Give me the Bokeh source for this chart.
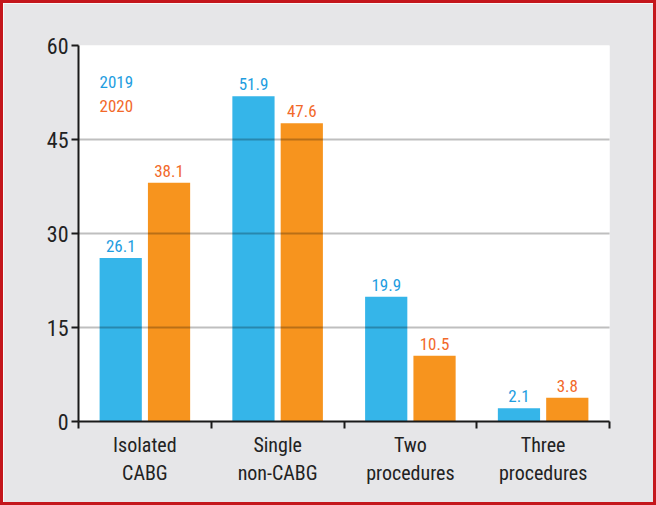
from bokeh.plotting import figure
from bokeh.models import Range1d, FixedTicker, Label, ColumnDataSource
from bokeh.core.properties import value
from bokeh.embed import file_html
from bokeh.resources import INLINE

categories = ["Isolated\nCABG", "Single\nnon-CABG", "Two\nprocedures", "Three\nprocedures"]
series_names = ["2019", "2020"]
values_2019 = [26.1, 51.9, 19.9, 2.1]
values_2020 = [38.1, 47.6, 10.5, 3.8]
y_ticks = [0, 15, 30, 45, 60]

FONT = "Roboto Condensed"
BLUE_BAR = "#35b5e9"
ORANGE_BAR = "#f7941e"
BLUE_TXT = "#1e9ddf"
ORANGE_TXT = "#f2692a"

p = figure(width=656, height=505, output_backend="svg", toolbar_location=None,
           x_range=Range1d(0, 4), y_range=Range1d(0, 60),
           min_border_left=75, min_border_top=42, min_border_right=50, min_border_bottom=87)
p.styles = {"border": "3px solid #c4161c"}
p.background_fill_color = "white"
p.border_fill_color = "#e6e6e8"
p.outline_line_color = None

off = 0.182
w = 0.318
centers = [i + 0.5 for i in range(len(categories))]
src1 = ColumnDataSource(dict(x=[c - off for c in centers], top=values_2019,
                             lab=[f"{v:.1f}" for v in values_2019]))
src2 = ColumnDataSource(dict(x=[c + off for c in centers], top=values_2020,
                             lab=[f"{v:.1f}" for v in values_2020]))
p.vbar(x="x", top="top", width=w, source=src1, fill_color=BLUE_BAR, line_color=None)
p.vbar(x="x", top="top", width=w, source=src2, fill_color=ORANGE_BAR, line_color=None)
p.text(x="x", y="top", text="lab", source=src1, text_align="center", text_baseline="bottom",
       y_offset=-6, text_font=value(FONT), text_font_size="17px", text_color=BLUE_TXT)
p.text(x="x", y="top", text="lab", source=src2, text_align="center", text_baseline="bottom",
       y_offset=-6, text_font=value(FONT), text_font_size="17px", text_color=ORANGE_TXT)

xa = p.xaxis[0]
xa.ticker = FixedTicker(ticks=centers, minor_ticks=[0, 1, 2, 3, 4])
xa.major_label_overrides = {c: lab for c, lab in zip(centers, categories)}
xa.major_tick_line_color = None
xa.major_tick_out = 0
xa.minor_tick_out = 7
xa.minor_tick_in = 0
xa.minor_tick_line_color = "#1a1a1a"
xa.minor_tick_line_width = 2
xa.axis_line_color = "#1a1a1a"
xa.axis_line_width = 2
xa.major_label_text_font = FONT
xa.major_label_text_font_size = "20px"
xa.major_label_text_color = "#222222"
xa.major_label_standoff = 4

ya = p.yaxis[0]
ya.ticker = FixedTicker(ticks=y_ticks)
ya.minor_tick_line_color = None
ya.major_tick_out = 7
ya.major_tick_in = 0
ya.major_tick_line_color = "#1a1a1a"
ya.major_tick_line_width = 2
ya.axis_line_color = "#1a1a1a"
ya.axis_line_width = 2
ya.major_label_text_font = FONT
ya.major_label_text_font_size = "22px"
ya.major_label_text_color = "#222222"
ya.major_label_standoff = 3

p.xgrid.grid_line_color = None
p.ygrid.ticker = FixedTicker(ticks=[15, 30, 45, 60])
p.ygrid.grid_line_color = "black"
p.ygrid.grid_line_alpha = 0.25
p.ygrid.grid_line_width = 2
p.ygrid.level = "overlay"

p.add_layout(Label(x=21, y=334, x_units="screen", y_units="screen", text=series_names[0],
                   text_font=FONT, text_font_size="17px", text_color=BLUE_TXT))
p.add_layout(Label(x=21, y=310, x_units="screen", y_units="screen", text=series_names[1],
                   text_font=FONT, text_font_size="17px", text_color=ORANGE_TXT))

open("out.html", "w").write(file_html(p, INLINE))
